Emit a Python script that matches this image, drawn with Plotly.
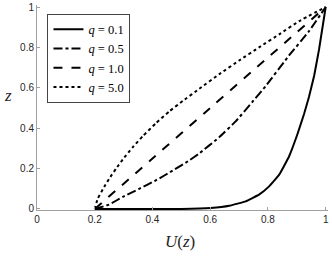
import plotly.graph_objects as go

# Data
u_q01 = [0.2, 0.35, 0.50, 0.602, 0.666, 0.723, 0.769, 0.804, 0.839, 0.873, 0.902, 0.925, 0.942, 0.96, 0.977, 1.0]
z_q01 = [0.0, 0.0, 0.0, 0.005, 0.016, 0.038, 0.071, 0.112, 0.17, 0.26, 0.37, 0.47, 0.555, 0.66, 0.79, 1.0]

u_q05 = [0.2, 0.25, 0.297, 0.354, 0.412, 0.47, 0.527, 0.562, 0.631, 0.689, 0.746, 0.793, 0.873, 0.942, 1.0]
z_q05 = [0.0, 0.022, 0.06, 0.10, 0.142, 0.19, 0.24, 0.275, 0.355, 0.435, 0.53, 0.61, 0.76, 0.88, 1.0]

u_q10 = [0.2, 0.4, 0.6, 0.8, 1.0]
z_q10 = [0.0, 0.25, 0.5, 0.75, 1.0]

u_q50 = [0.2, 0.21, 0.233, 0.25, 0.274, 0.297, 0.331, 0.366, 0.412, 0.458, 0.505,
         0.562, 0.631, 0.70, 0.769, 0.839, 0.908, 1.0]
z_q50 = [0.0, 0.05, 0.11, 0.15, 0.20, 0.245, 0.305, 0.36, 0.425, 0.483, 0.535,
         0.595, 0.667, 0.735, 0.80, 0.865, 0.93, 1.0]

labels = ["<i>q</i> = 0.1", "<i>q</i> = 0.5", "<i>q</i> = 1.0", "<i>q</i> = 5.0"]
dashes = ["solid", "dashdot", "dash", "dot"]
series = [(u_q01, z_q01), (u_q05, z_q05), (u_q10, z_q10), (u_q50, z_q50)]

x_ticks = [0, 0.2, 0.4, 0.6, 0.8, 1]
x_ticklabels = ["0", "0.2", "0.4", "0.6", "0.8", "1"]
y_ticks = [0, 0.2, 0.4, 0.6, 0.8, 1]
y_ticklabels = ["0", "0.2", "0.4", "0.6", "0.8", "1"]

fig = go.Figure()
for (u, z), lab, d in zip(series, labels, dashes):
    fig.add_trace(go.Scatter(
        x=u, y=z, mode="lines", name=lab,
        line=dict(color="black", width=2, dash=d, shape="spline", smoothing=0.3),
    ))

axis_common = dict(
    showgrid=False, zeroline=False, showline=True, automargin=False,
    linecolor="#a0a0a0", linewidth=1,
    ticks="inside", ticklen=3, tickcolor="#a0a0a0",
    tickfont=dict(family="Liberation Sans, Arial", size=10, color="#262626"),
)

serif = "Liberation Serif, DejaVu Serif"
fig.update_layout(
    width=332, height=256, autosize=False,
    margin=dict(l=37, r=4, t=5, b=46, autoexpand=False),
    paper_bgcolor="white", plot_bgcolor="white",
    showlegend=True,
    legend=dict(
        x=0.036, y=0.958, xanchor="left", yanchor="top",
        bgcolor="white", bordercolor="#444444", borderwidth=1,
        font=dict(family=serif, size=12.5, color="black"),
        tracegroupgap=0, itemwidth=30,
    ),
    xaxis=dict(range=[0, 1.008], tickvals=x_ticks, ticktext=x_ticklabels, **axis_common),
    yaxis=dict(range=[-0.005, 1.01], tickvals=y_ticks, ticktext=y_ticklabels, **axis_common),
    annotations=[
        dict(text="<i>U</i>(<i>z</i>)", xref="paper", yref="paper",
             x=0.49, y=-0.155, xanchor="center", yanchor="middle", showarrow=False,
             font=dict(family=serif, size=17, color="#262626")),
        dict(text="<i>z</i>", xref="paper", yref="paper",
             x=-0.1, y=0.56, xanchor="center", yanchor="middle", showarrow=False,
             font=dict(family=serif, size=17, color="#262626")),
    ],
)

fig.write_html("out.html", config={"displayModeBar": False},
               post_script="document.body.style.margin='0';")
